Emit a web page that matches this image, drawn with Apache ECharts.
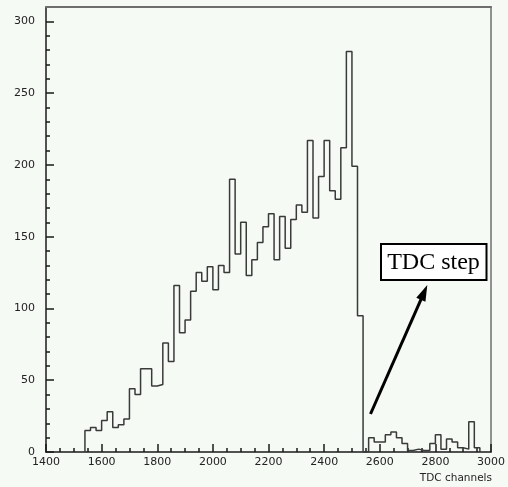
<!DOCTYPE html>
<html>
<head>
<meta charset="utf-8">
<script src="https://cdn.jsdelivr.net/npm/echarts@6/dist/echarts.min.js"></script>
<style>
  html, body { margin: 0; padding: 0; background: #f5faf5; }
  #chart { width: 508px; height: 487px; }
</style>
</head>
<body>
<div id="chart"></div>
<script>
// Histogram: TDC channels, bins of width 20 starting at 1540
const binStart = 1540;
const binWidth = 20;
const counts = [
  15, 17, 15, 22, 28, 17, 19, 23, 44, 40,
  58, 58, 46, 47, 76, 63, 116, 83, 92, 112,
  125, 119, 129, 113, 130, 125, 190, 138, 160, 123,
  134, 146, 157, 166, 134, 164, 142, 162, 172, 167,
  217, 163, 192, 217, 182, 176, 212, 279, 199, 95,
  0, 10, 7, 7, 12, 14, 10, 6, 1, 2,
  1, 1, 6, 12, 2, 9, 7, 3, 2, 21,
  3
];
const xTicks = [1400, 1600, 1800, 2000, 2200, 2400, 2600, 2800, 3000];
const yTicks = [0, 50, 100, 150, 200, 250, 300];
const xTitle = 'TDC channels';
const noteText = 'TDC step';

const pts = [[binStart, 0]];
counts.forEach((c, i) => pts.push([binStart + i * binWidth, c]));
pts.push([binStart + counts.length * binWidth, 0]);

const chart = echarts.init(document.getElementById('chart'), null, { renderer: 'canvas' });

const G = { left: 46, right: 16, top: 7, bottom: 35 };
const gridH = 487 - G.top - G.bottom;
const yMaxFrame = 310;
const gridBH = gridH * yTicks[yTicks.length - 1] / yMaxFrame;

const labelFont = { fontFamily: 'DejaVu Sans', fontSize: 11, color: '#222' };
const plain = v => String(v);
const axisDark = { color: '#1a1a1a', width: 1.5 };

const tail = [370.5, 414], tip = [427.3, 285];
const dx = tip[0] - tail[0], dy = tip[1] - tail[1];
const L = Math.hypot(dx, dy), ux = dx / L, uy = dy / L;
const headLen = 16, headHalf = 5;
const base = [tip[0] - ux * headLen, tip[1] - uy * headLen];
const nx = -uy, ny = ux;

chart.setOption({
  animation: false,
  backgroundColor: '#f5faf5',
  grid: [
    { left: G.left, right: G.right, top: G.top, bottom: G.bottom, containLabel: false },
    { left: G.left, right: G.right, height: gridBH, bottom: G.bottom, containLabel: false }
  ],
  xAxis: [
    {
      gridIndex: 0, type: 'value', position: 'bottom',
      min: xTicks[0], max: xTicks[xTicks.length - 1], interval: 200,
      axisLine: { show: true, onZero: false, lineStyle: axisDark },
      axisTick: { show: true, inside: true, length: 8, lineStyle: axisDark },
      minorTick: { show: true, splitNumber: 4, length: 4, lineStyle: axisDark },
      axisLabel: Object.assign({ margin: 5, formatter: plain }, labelFont),
      splitLine: { show: false }
    },
    {
      gridIndex: 0, type: 'value', position: 'top',
      min: xTicks[0], max: xTicks[xTicks.length - 1],
      axisLine: { show: true, onZero: false, lineStyle: { color: '#6e6e6e', width: 2 } },
      axisTick: { show: false }, axisLabel: { show: false }, splitLine: { show: false }
    },
    { gridIndex: 1, type: 'value', show: false, min: xTicks[0], max: xTicks[xTicks.length - 1] }
  ],
  yAxis: [
    {
      gridIndex: 0, type: 'value', position: 'left', min: 0, max: yMaxFrame,
      axisLine: { show: true, onZero: false, lineStyle: axisDark },
      axisTick: { show: false }, axisLabel: { show: false }, splitLine: { show: false }
    },
    {
      gridIndex: 0, type: 'value', position: 'right', min: 0, max: yMaxFrame,
      axisLine: { show: true, onZero: false, lineStyle: { color: '#6e6e6e', width: 1.5 } },
      axisTick: { show: false }, axisLabel: { show: false }, splitLine: { show: false }
    },
    {
      gridIndex: 1, type: 'value', position: 'left',
      min: yTicks[0], max: yTicks[yTicks.length - 1], interval: 50,
      axisLine: { show: false, onZero: false },
      axisTick: { show: true, inside: true, length: 8, lineStyle: axisDark },
      minorTick: { show: true, splitNumber: 5, length: 4, lineStyle: axisDark },
      axisLabel: Object.assign({ margin: 11, formatter: plain }, labelFont),
      splitLine: { show: false }
    }
  ],
  series: [
    {
      type: 'line', xAxisIndex: 0, yAxisIndex: 0,
      step: 'end', data: pts, symbol: 'none',
      lineStyle: { color: '#3a3a3a', width: 1.5 },
      z: 3
    }
  ],
  graphic: [
    {
      type: 'text', right: 16, top: 473,
      style: { text: xTitle, fontFamily: 'DejaVu Sans', fontSize: 10.5, fill: '#222' }
    },
    {
      type: 'rect',
      shape: { x: 381, y: 244, width: 105.5, height: 36 },
      style: { fill: '#ffffff', stroke: '#000', lineWidth: 2 }
    },
    {
      type: 'text', x: 433.5, y: 263,
      style: { text: noteText, fontFamily: 'Liberation Serif', fontSize: 24, fill: '#000',
               align: 'center', verticalAlign: 'middle' }
    },
    {
      type: 'line',
      shape: { x1: tail[0], y1: tail[1], x2: base[0] + ux * 2, y2: base[1] + uy * 2 },
      style: { stroke: '#000', lineWidth: 3 }
    },
    {
      type: 'polygon',
      shape: { points: [tip, [base[0] + nx * headHalf, base[1] + ny * headHalf], [base[0] - nx * headHalf, base[1] - ny * headHalf]] },
      style: { fill: '#000' }
    }
  ]
});
</script>
</body>
</html>
